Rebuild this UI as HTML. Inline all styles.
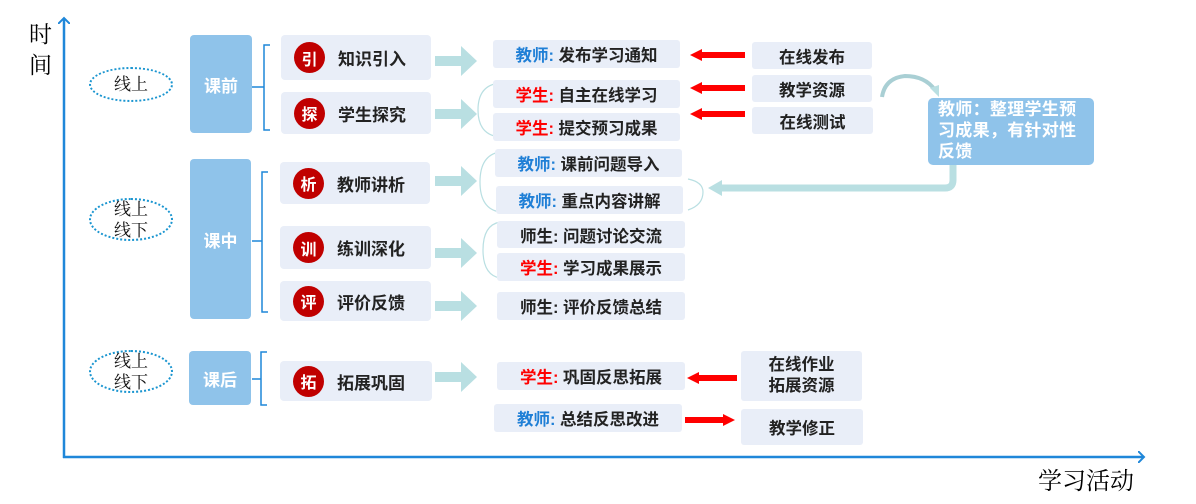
<!DOCTYPE html>
<html><head><meta charset="utf-8"><style>
body{margin:0;width:1196px;height:504px;background:#fff;position:relative;overflow:hidden;font-family:"Liberation Sans","Noto Sans CJK SC",sans-serif;}
.a{position:absolute;box-sizing:border-box;}
.ph{background:#8fc3ea;border-radius:4px;color:#fff;font-weight:bold;font-size:17px;display:flex;align-items:center;justify-content:center;}
.lb{background:#e9eef8;border-radius:4px;font-weight:bold;font-size:17px;color:#222;display:flex;align-items:center;}
.c{width:31px;height:31px;border-radius:50%;background:#c00000;color:#fff;font-size:16px;font-weight:bold;display:flex;align-items:center;justify-content:center;margin-left:13px;margin-right:13px;}
.mb{background:#e9eef8;border-radius:3px;font-weight:bold;font-size:16.5px;color:#222;display:flex;align-items:center;justify-content:center;}
.t{color:#1f7fd6}.s{color:#ff0000}
.el{border:2.5px dotted #1a95d0;border-radius:50%;font-size:17px;color:#111;display:flex;align-items:center;justify-content:center;text-align:center;line-height:21px;font-family:"Liberation Serif","Noto Serif CJK SC",serif;}
</style></head><body>
<svg class="a" style="left:0;top:0" width="1196" height="504">
<defs>
<marker id="ax" markerWidth="12" markerHeight="12" refX="6" refY="6" orient="auto" markerUnits="userSpaceOnUse"><path d="M0,0 L6,6 L0,12" fill="none" stroke="#1f87d9" stroke-width="2"/></marker>
</defs>
<line x1="64" y1="458" x2="64" y2="18" stroke="#1f87d9" stroke-width="2.5" marker-end="url(#ax)"/>
<line x1="63" y1="457" x2="1144" y2="457" stroke="#1f87d9" stroke-width="2.5" marker-end="url(#ax)"/>
<g fill="none" stroke="#1f87d9" stroke-width="1.5">
<path d="M270,45 H264 V130 H270 M252,87 H264"/>
<path d="M268,172 H262 V312 H268 M252,241 H262"/>
<path d="M267,352 H261 V405 H267 M252,379 H261"/>
</g>
<g fill="#b9dfe2">
<path d="M435,56 h26 v-10 l16,15 l-16,15 v-10 h-26z"/>
<path d="M435,109 h26 v-10 l16,15 l-16,15 v-10 h-26z"/>
<path d="M435,176 h26 v-10 l16,15 l-16,15 v-10 h-26z"/>
<path d="M435,248 h26 v-10 l16,15 l-16,15 v-10 h-26z"/>
<path d="M435,301 h26 v-10 l16,15 l-16,15 v-10 h-26z"/>
<path d="M435,372 h26 v-10 l16,15 l-16,15 v-10 h-26z"/>
</g>
<g fill="none" stroke="#b9dfe2" stroke-width="1.2">
<path d="M500,83 Q478,85 478,110 Q478,135 500,137"/>
<path d="M500,152 Q480,155 480,182 Q480,209 500,212"/>
<path d="M688,179 Q703,182 703,192 Q703,205 688,210"/>
<path d="M500,222 Q483,225 483,250 Q483,275 500,278"/>
</g>
<path d="M953,165 V180 Q953,188 945,188 H718" fill="none" stroke="#b9dfe2" stroke-width="7"/>
<path d="M708,188 l14,-8 v16z" fill="#b9dfe2"/>
<path d="M882,97 Q885,78 905,76 Q925,76 935,90" fill="none" stroke="#a9cfd4" stroke-width="4"/>
<path d="M930,88 l9,-3 l0,12z" fill="#b9dfe2"/>
<g fill="#ff0000">
<path d="M745,52 H702 v-3 l-12,6 l12,6 v-3 H745z"/>
<path d="M745,85 H702 v-3 l-12,6 l12,6 v-3 H745z"/>
<path d="M745,111 H702 v-3 l-12,6 l12,6 v-3 H745z"/>
<path d="M737,375 H699 v-3 l-12,6 l12,6 v-3 H737z"/>
<path d="M685,417 H723 v-3 l12,6 l-12,6 v-3 H685z"/>
</g>
</svg>
<div class="a" style="left:29px;top:19px;font-size:23px;line-height:31px;width:26px;font-family:'Liberation Serif','Noto Serif CJK SC',serif;">时<br>间</div>
<div class="a" style="left:1038px;top:461px;font-size:24px;font-family:'Liberation Serif','Noto Serif CJK SC',serif;">学习活动</div>
<div class="a el" style="left:89px;top:67px;width:84px;height:35px;">线上</div>
<div class="a el" style="left:89px;top:198px;width:84px;height:43px;">线上<br>线下</div>
<div class="a el" style="left:89px;top:350px;width:84px;height:43px;">线上<br>线下</div>
<div class="a ph" style="left:190px;top:35px;width:62px;height:98px;">课前</div>
<div class="a ph" style="left:190px;top:159px;width:61px;height:160px;">课中</div>
<div class="a ph" style="left:189px;top:351px;width:62px;height:54px;">课后</div>
<div class="a lb" style="left:281px;top:35px;width:150px;height:45px;"><span class="c">引</span>知识引入</div>
<div class="a lb" style="left:281px;top:92px;width:150px;height:42px;"><span class="c">探</span>学生探究</div>
<div class="a lb" style="left:280px;top:162px;width:150px;height:42px;"><span class="c">析</span>教师讲析</div>
<div class="a lb" style="left:280px;top:226px;width:151px;height:43px;"><span class="c">训</span>练训深化</div>
<div class="a lb" style="left:280px;top:281px;width:151px;height:40px;"><span class="c">评</span>评价反馈</div>
<div class="a lb" style="left:280px;top:361px;width:152px;height:40px;"><span class="c">拓</span>拓展巩固</div>
<div class="a mb" style="left:493px;top:40px;width:187px;height:28px;"><span class="t">教师:</span>&nbsp;发布学习通知</div>
<div class="a mb" style="left:493px;top:80px;width:187px;height:28px;"><span class="s">学生:</span>&nbsp;自主在线学习</div>
<div class="a mb" style="left:493px;top:113px;width:187px;height:28px;"><span class="s">学生:</span>&nbsp;提交预习成果</div>
<div class="a mb" style="left:495px;top:149px;width:187px;height:28px;"><span class="t">教师:</span>&nbsp;课前问题导入</div>
<div class="a mb" style="left:496px;top:186px;width:187px;height:28px;"><span class="t">教师:</span>&nbsp;重点内容讲解</div>
<div class="a mb" style="left:497px;top:221px;width:188px;height:27px;">师生:&nbsp;问题讨论交流</div>
<div class="a mb" style="left:497px;top:253px;width:188px;height:28px;"><span class="s">学生:</span>&nbsp;学习成果展示</div>
<div class="a mb" style="left:497px;top:292px;width:188px;height:28px;">师生:&nbsp;评价反馈总结</div>
<div class="a mb" style="left:497px;top:362px;width:188px;height:28px;"><span class="s">学生:</span>&nbsp;巩固反思拓展</div>
<div class="a mb" style="left:494px;top:404px;width:188px;height:28px;"><span class="t">教师:</span>&nbsp;总结反思改进</div>
<div class="a mb" style="left:752px;top:42px;width:120px;height:27px;">在线发布</div>
<div class="a mb" style="left:752px;top:75px;width:120px;height:27px;">教学资源</div>
<div class="a mb" style="left:752px;top:107px;width:121px;height:27px;">在线测试</div>
<div class="a mb" style="left:741px;top:351px;width:121px;height:50px;text-align:center;line-height:21px;">在线作业<br>拓展资源</div>
<div class="a mb" style="left:741px;top:409px;width:122px;height:36px;">教学修正</div>
<div class="a" style="left:928px;top:98px;width:166px;height:67px;background:#8fc3ea;border-radius:5px;color:#fff;font-weight:bold;font-size:17px;line-height:21px;padding:1px 4px 0 10px;letter-spacing:0.3px;">教师：整理学生预<br>习成果，有针对性<br>反馈</div>
</body></html>
